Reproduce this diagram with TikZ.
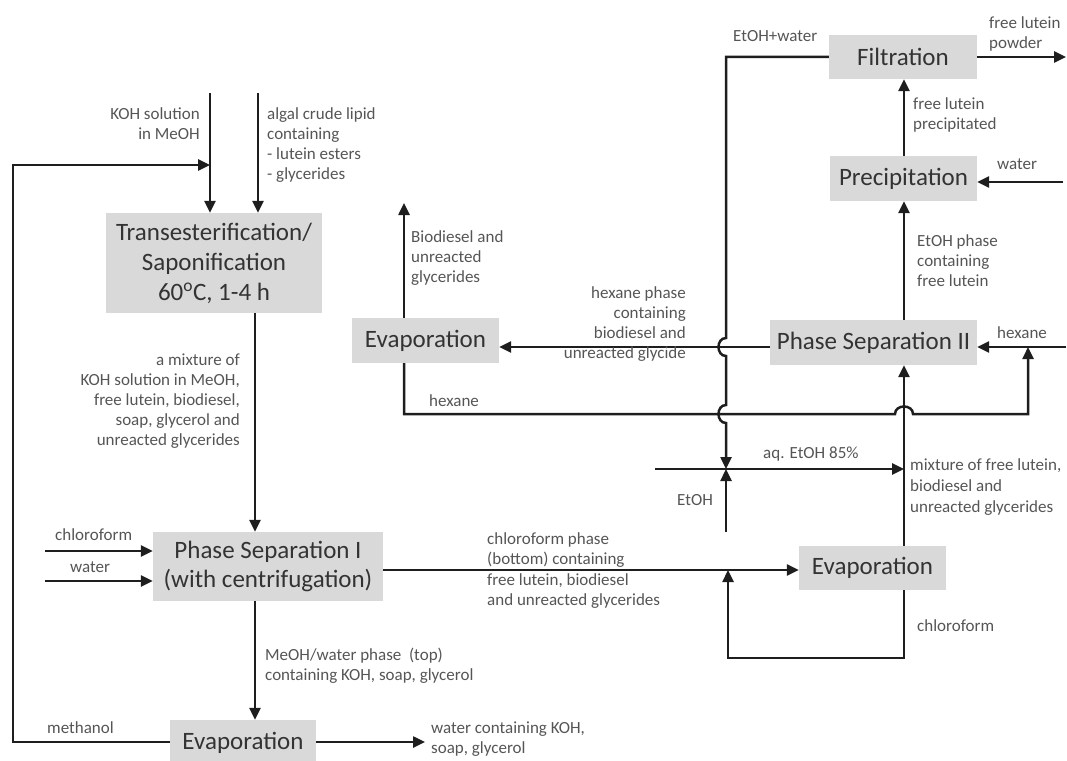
\documentclass[tikz,border=0pt]{standalone}
\usepackage{fontspec}
\setmainfont{Carlito}
\usetikzlibrary{arrows.meta}
\definecolor{boxfill}{HTML}{D9D9D9}
\definecolor{boxtext}{HTML}{333333}
\definecolor{labtext}{HTML}{555555}
\definecolor{linecol}{HTML}{1E1E1E}
\begin{document}
\begin{tikzpicture}[x=1pt,y=-1pt,
  box/.style={fill=boxfill,text=boxtext,inner sep=0pt,align=center,
    font=\fontsize{25}{29}\selectfont},
  lab/.style={text=labtext,inner sep=0pt,font=\fontsize{17}{20}\selectfont},
  labl/.style={lab,anchor=north west,align=left},
  labr/.style={lab,anchor=north east,align=right},
  ln/.style={draw=linecol,line width=2.5pt},
  arr/.style={ln,-{Triangle[length=12pt,width=11pt]}}]
\useasboundingbox (0,0) rectangle (1067,760);

% boxes
\node[box,minimum width=216pt,minimum height=100pt,font=\fontsize{25}{30}\selectfont] (T) at (214,263)
  {Transesterification/\\Saponification\\60\textsuperscript{o}C, 1-4 h};
\node[box,minimum width=230pt,minimum height=69pt] (P1) at (268,566.5) {Phase Separation I\\(with centrifugation)};
\node[box,minimum width=146pt,minimum height=46pt] (E3) at (243,743) {Evaporation};
\node[box,minimum width=147pt,minimum height=45pt] (E2) at (425.5,340.5) {Evaporation};
\node[box,minimum width=207pt,minimum height=45pt] (PS2) at (873.5,342.5) {Phase Separation II};
\node[box,minimum width=148pt,minimum height=44pt] (F) at (903,57) {Filtration};
\node[box,minimum width=147pt,minimum height=45pt] (Pr) at (903.5,178.5) {Precipitation};
\node[box,minimum width=147pt,minimum height=44pt] (E1) at (872.5,568) {Evaporation};

% helper coordinates
\coordinate (kohin) at (210,93);
\coordinate (algin) at (258,93);
\coordinate (rl) at (13,165);
\coordinate (x255) at (255,0);
\coordinate (chin) at (45,551);
\coordinate (wain) at (45,581);
\coordinate (h570) at (0,570);
\coordinate (x904) at (904,0);
\coordinate (x404) at (404,0);
\coordinate (loopc) at (728,658);
\coordinate (powder) at (1066,57);
\coordinate (watin) at (1063,182);
\coordinate (hexin) at (1066,347);
\coordinate (h347) at (0,347);
\coordinate (bdout) at (404,203);
\coordinate (hexbot) at (404,414);
\coordinate (hexr) at (1028,414);
\coordinate (ewtop) at (726,57);
\coordinate (meet) at (726,469);
\coordinate (etohin) at (726,532);
\coordinate (aqin) at (655,469);
\coordinate (wout) at (425,742);

% connectors
\draw[arr] (kohin) -- (kohin |- T.north);
\draw[arr] (algin) -- (algin |- T.north);
\draw[arr] (E3.west |- wout) -| (rl) -- (kohin |- rl);
\draw[arr] (T.south -| x255) -- (P1.north -| x255);
\draw[arr] (chin) -- (chin -| P1.west);
\draw[arr] (wain) -- (wain -| P1.west);
\draw[arr] (P1.east |- h570) -- (E1.west |- h570);
\draw[arr] (P1.south -| x255) -- (E3.north -| x255);
\draw[arr] (E3.east |- wout) -- (wout);
\draw[arr] (E1.north -| x904) -- (PS2.south -| x904);
\draw[arr] (E1.south -| x904) -- (loopc -| x904) -- (loopc) -- (loopc |- h570);
\draw[arr] (PS2.north -| x904) -- (Pr.south -| x904);
\draw[arr] (Pr.north -| x904) -- (F.south -| x904);
\draw[arr] (F.east) -- (powder);
\draw[arr] (watin) -- (watin -| Pr.east);
\draw[arr] (hexin) -- (hexin -| PS2.east);
\draw[arr] (PS2.west |- h347) -- (E2.east |- h347);
\draw[arr] (E2.north -| x404) -- (bdout);
\draw[arr] (E2.south -| x404) -- (hexbot) -- (895,414)
  .. controls (895,404) and (913,404) .. (913,414) -- (hexr) -- (hexr |- h347);
\draw[arr] (F.west |- ewtop) -- (ewtop) -- (726,338)
  .. controls (716,338) and (716,356) .. (726,356) -- (726,405)
  .. controls (716,405) and (716,423) .. (726,423) -- (meet);
\draw[arr] (etohin) -- (meet);
\draw[arr] (aqin) -- (aqin -| x904);

% labels
\node[labr] (lkoh) at (200,107) {KOH solution\\in MeOH};
\node[labl] (lalg) at (267,107) {algal crude lipid\\containing\\- lutein esters\\- glycerides};
\node[labr] (lmix) at (240,354) {a mixture of\\KOH solution in MeOH,\\free lutein, biodiesel,\\soap, glycerol and\\unreacted glycerides};
\node[labl] (lbio) at (411,230) {Biodiesel and\\unreacted\\glycerides};
\node[labr] (lhexph) at (686,286) {hexane phase\\containing\\biodiesel and\\unreacted glycide};
\node[labl] (lhex1) at (429,394) {hexane};
\node[labl] (lhex2) at (997,326) {hexane};
\node[labl] (lew) at (733,30) {EtOH+water};
\node[labl] (lpow) at (989,16) {free lutein\\powder};
\node[labl] (lprec) at (913,97) {free lutein\\precipitated};
\node[labl] (lwat1) at (997,159) {water};
\node[labl] (letph) at (917,234) {EtOH phase\\containing\\free lutein};
\node[labl] (laq) at (763,447) {aq. EtOH 85\%};
\node[labl] (letoh) at (677,494) {EtOH};
\node[labl,font=\fontsize{17}{21}\selectfont] (lmixfl) at (910,458) {mixture of free lutein,\\biodiesel and\\unreacted glycerides};
\node[labl] (lchl2) at (917,619) {chloroform};
\node[labl,font=\fontsize{17}{20.5}\selectfont] (lchph) at (487,532) {chloroform phase\\(bottom) containing\\free lutein, biodiesel\\and unreacted glycerides};
\node[labl] (lchl1) at (55,528) {chloroform};
\node[labl] (lwat2) at (70,562) {water};
\node[labl] (lmeoh) at (265,648) {MeOH/water phase~~(top)\\containing KOH, soap, glycerol};
\node[labl] (lmet) at (47,721) {methanol};
\node[labl] (lwout) at (431,722) {water containing KOH,\\soap, glycerol};
\end{tikzpicture}
\end{document}
